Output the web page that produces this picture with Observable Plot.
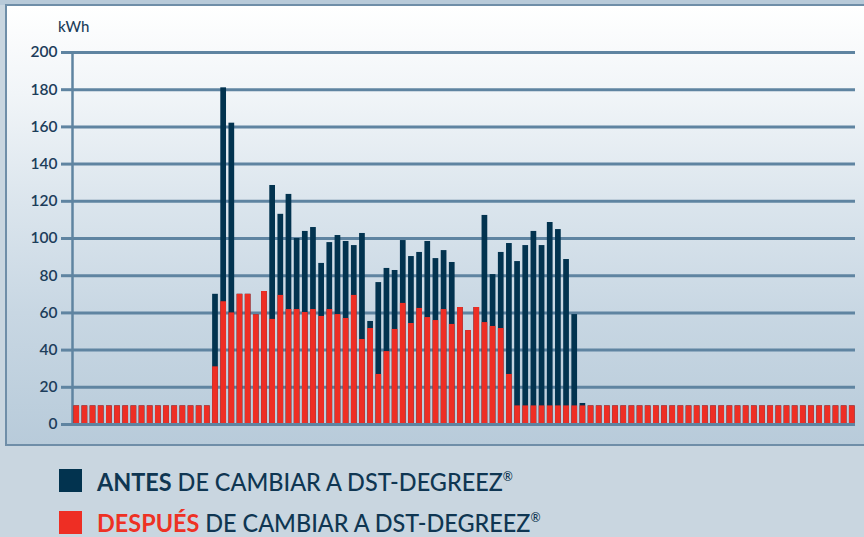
<!DOCTYPE html>
<html>
<head>
<meta charset="utf-8">
<script src="https://cdn.jsdelivr.net/npm/d3@7"></script>
<script src="https://cdn.jsdelivr.net/npm/@observablehq/plot@0.6"></script>
<style>
  html, body { margin: 0; padding: 0; }
  body { width: 864px; height: 537px; background: #c9d6e0; position: relative; overflow: hidden; font-family: Lato, "Open Sans", sans-serif; }
  #topstrip { position: absolute; left: 0; top: 0; width: 864px; height: 5px; background: #b8cad9; }
  #panel { position: absolute; left: 5px; top: 4px; width: 880px; height: 438px;
    border-top: 2px solid #6f8ea8; border-left: 2px solid #6f8ea8; border-bottom: 2px solid #6f8ea8;
    background: linear-gradient(to bottom, #ffffff 0%, #f1f5f8 20%, #dbe5ed 45%, #c8d7e3 70%, #b8cbda 100%); }
  #chart { position: absolute; left: 0; top: 0; }
  #unit { position: absolute; left: 58px; top: 17px; font-size: 15px; font-weight: 500; color: #1c3d5a; }
  .sw { position: absolute; left: 59px; width: 23px; height: 23px; }
  .lg { position: absolute; left: 97px; font-size: 25px; line-height: 25px; height: 25px; font-weight: 500; color: #0f3652; white-space: nowrap; transform-origin: left center; transform: scaleX(0.937); }
  .lg b { font-weight: 700; }
  .reg { position: relative; top: -10px; font-size: 13px; }
</style>
</head>
<body>
<div id="topstrip"></div>
<div id="panel"></div>
<div id="chart"></div>
<div id="unit">kWh</div>
<div class="sw" style="top:469px;background:#02334f"></div>
<div class="lg" style="top:469px"><b>ANTES</b> DE CAMBIAR A DST-DEGREEZ<span class="reg">®</span></div>
<div class="sw" style="top:511px;background:#ee2e24"></div>
<div class="lg" style="top:509.5px"><b style="color:#ee3124">DESPUÉS</b> DE CAMBIAR A DST-DEGREEZ<span class="reg">®</span></div>
<script>
const antes = [
  10,10,10,10,10,10,10,10,10,10,10,10,10,10,10,10,10,
  70,181,162,70,70,59,71.5,128.5,113,123.7,100,103.8,105.9,86.6,97.8,101.6,98.4,96.2,102.7,
  55.4,76.3,83.9,82.8,98.9,90.3,92.5,98.4,89.2,93.5,87.1,62.9,50.5,62.9,112.4,80.6,92.5,97.3,
  87.6,96.2,103.8,96.2,108.6,104.8,88.7,59.1,11.3,
  10,10,10,10,10,10,10,10,10,10,10,10,10,10,10,10,10,10,10,10,10,10,10,10,10,10,10,10,10,10,10,10,10
];
const despues = [
  10,10,10,10,10,10,10,10,10,10,10,10,10,10,10,10,10,
  31,66,60,70,70,59,71.5,56.5,69.4,61.8,61.8,60.2,61.8,58.1,61.8,59.1,57,69.4,45.7,
  51.6,26.9,39.2,51.1,65.1,54.3,62.4,57.5,55.9,61.8,53.8,62.9,50.5,62.9,54.8,52.7,51.6,26.9,
  10,10,10,10,10,10,10,10,10,
  10,10,10,10,10,10,10,10,10,10,10,10,10,10,10,10,10,10,10,10,10,10,10,10,10,10,10,10,10,10,10,10,10
];
const yTicks = [0,20,40,60,80,100,120,140,160,180,200];

const slots = antes.map((_, i) => i);
const data = slots.map(i => ({i, antes: antes[i], despues: despues[i]}));

const gridColor = "#5f84a1";
const chart = Plot.plot({
  width: 864,
  height: 445,
  marginTop: 52,
  marginBottom: 21,
  marginLeft: 72,
  marginRight: 9,
  style: {background: "transparent", fontFamily: "Lato, 'Open Sans', sans-serif", overflow: "visible"},
  x: {type: "band", domain: slots, range: [70.9, 857.1], padding: 0.3, round: false, axis: null},
  y: {domain: [0, 200], axis: null},
  marks: [
    Plot.gridY(yTicks, {stroke: gridColor, strokeWidth: 3, strokeOpacity: 1}),
    Plot.axisY(yTicks, {tickSize: 11, tickPadding: 4, stroke: gridColor, strokeWidth: 3, fill: "#1c3d5a", fontSize: 15.5, fontWeight: 600, label: null}),
    Plot.frame({anchor: "left", stroke: gridColor, strokeWidth: 2.5, strokeOpacity: 1}),
    Plot.barY(data, {x: "i", y: "antes", fill: "#02334f"}),
    Plot.barY(data, {x: "i", y: "despues", fill: "#ee2e24"}),
    Plot.ruleY([0], {stroke: gridColor, strokeWidth: 3})
  ]
});
document.getElementById("chart").appendChild(chart);
</script>
</body>
</html>
